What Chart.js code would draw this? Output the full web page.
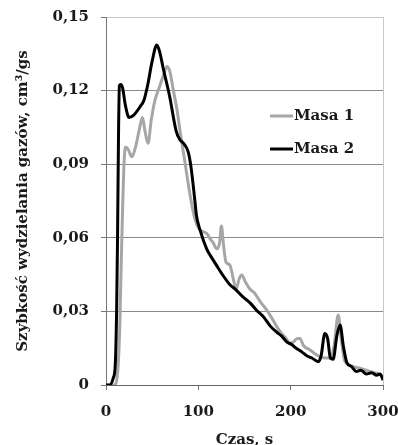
<!DOCTYPE html>
<html>
<head>
<meta charset="utf-8">
<script src="https://cdn.jsdelivr.net/npm/chart.js@4"></script>
<style>
  html, body { margin: 0; padding: 0; background: #fff; }
  .chart-wrap { width: 398px; height: 445px; position: relative; }
</style>
</head>
<body>
<div class="chart-wrap"><canvas id="chartGas"></canvas></div>
<script>
// ---- Data ----
const timeM1 = [0, 10, 12, 13.5, 15, 16.5, 18, 19.5, 21, 24, 28, 32, 36, 39.5, 42, 45.5, 49, 53, 58, 62, 66, 69, 73, 77, 80, 85, 91, 96, 101, 105, 109, 113, 116, 120, 123, 125, 127, 130, 134, 138, 141, 144, 147, 151, 156, 161, 167, 174, 180, 185, 190, 195, 199, 203, 207, 210, 214, 221, 227, 232, 238, 243, 247, 251.5, 255, 258, 262, 268, 275, 282, 290, 296, 300];
const valM1 = [0, 0, 0.003, 0.01, 0.025, 0.05, 0.072, 0.09, 0.097, 0.096, 0.093, 0.097, 0.104, 0.109, 0.104, 0.0985, 0.108, 0.116, 0.1216, 0.126, 0.1298, 0.128, 0.12, 0.112, 0.104, 0.092, 0.0775, 0.068, 0.0635, 0.0625, 0.0618, 0.0595, 0.058, 0.0555, 0.058, 0.0648, 0.058, 0.05, 0.049, 0.043, 0.039, 0.043, 0.0448, 0.042, 0.039, 0.0374, 0.034, 0.0306, 0.027, 0.0238, 0.021, 0.019, 0.017, 0.0175, 0.019, 0.019, 0.016, 0.0143, 0.0125, 0.0115, 0.011, 0.011, 0.016, 0.0285, 0.018, 0.0105, 0.0085, 0.0075, 0.0068, 0.006, 0.005, 0.0045, 0.003];

const timeM2 = [0, 4, 8, 10, 11.5, 12.5, 13.5, 14.5, 16, 18, 21, 25, 30, 37, 41, 45, 50, 55, 58, 62, 69, 76, 80, 84, 89, 92, 96, 98, 102, 109, 116, 121, 127, 134, 141, 148, 156, 163, 170, 178, 185, 190, 196, 201, 206, 212, 217, 223, 230, 233, 237, 240, 243, 246, 250, 253.5, 257, 261, 266, 271, 276, 282, 288, 293, 297, 300];
const valM2 = [0, 0, 0.003, 0.008, 0.03, 0.06, 0.1, 0.122, 0.1225, 0.121, 0.114, 0.109, 0.11, 0.1135, 0.116, 0.122, 0.132, 0.1386, 0.136, 0.129, 0.1175, 0.1035, 0.1, 0.0985, 0.095, 0.089, 0.076, 0.069, 0.063, 0.0555, 0.051, 0.048, 0.0445, 0.041, 0.0387, 0.036, 0.0335, 0.0305, 0.028, 0.024, 0.0215, 0.02, 0.0175, 0.0165, 0.015, 0.0135, 0.012, 0.011, 0.0095, 0.012, 0.021, 0.019, 0.011, 0.0105, 0.02, 0.0245, 0.016, 0.009, 0.0075, 0.0055, 0.006, 0.0045, 0.005, 0.004, 0.0045, 0.002];

const seriesNames = ['Masa 1', 'Masa 2'];
const xTitle = 'Czas, s';
const yTitle = 'Szybkość wydzielania gazów, cm³/gs';

const FONT = "'DejaVu Serif', serif";
const toPoints = (xs, ys) => xs.map((x, i) => ({ x, y: ys[i] }));
const fmtTick = v => Math.abs(v) < 1e-9 ? '0' : v.toFixed(2).replace('.', ',');
// keep the plot box where the layout padding puts it (labels may overflow)
const noScalePad = s => { s.paddingLeft = 0; s.paddingRight = 0; s.paddingTop = 0; s.paddingBottom = 0; };

// legend drawn by hand, Excel style (short line + label)
const legendPlugin = {
  id: 'sideLegend',
  afterDraw(chart) {
    const { ctx, chartArea } = chart;
    const rows = [
      { label: seriesNames[0], color: '#a6a6a6', y: chartArea.top + 99 },
      { label: seriesNames[1], color: '#000000', y: chartArea.top + 132 },
    ];
    const x0 = chartArea.left + 164;
    ctx.save();
    ctx.font = "bold 15px " + FONT;
    ctx.textBaseline = 'middle';
    rows.forEach(r => {
      ctx.strokeStyle = r.color;
      ctx.lineWidth = 3;
      ctx.beginPath();
      ctx.moveTo(x0, r.y);
      ctx.lineTo(x0 + 23, r.y);
      ctx.stroke();
      ctx.fillStyle = '#1a1a1a';
      ctx.fillText(r.label, x0 + 24, r.y);
    });
    ctx.restore();
  }
};

new Chart(document.getElementById('chartGas'), {
  type: 'line',
  data: {
    datasets: [
      { label: seriesNames[0], data: toPoints(timeM1, valM1), borderColor: '#a6a6a6', borderWidth: 3, pointRadius: 0, cubicInterpolationMode: 'monotone', fill: false, order: 1 },
      { label: seriesNames[1], data: toPoints(timeM2, valM2), borderColor: '#000000', borderWidth: 3, pointRadius: 0, cubicInterpolationMode: 'monotone', fill: false, order: 0 },
    ]
  },
  options: {
    responsive: true,
    maintainAspectRatio: false,
    animation: false,
    layout: { padding: { top: 17, right: 15, left: 0, bottom: 0 } },
    plugins: { legend: { display: false }, tooltip: { enabled: false } },
    scales: {
      x: {
        type: 'linear', min: 0, max: 300,
        ticks: { stepSize: 100, color: '#1a1a1a', font: { family: FONT, size: 15, weight: 'bold' }, padding: 13, maxRotation: 0 },
        grid: { color: c => c.tick && c.tick.value === 300 ? '#c8c8c8' : 'transparent', tickColor: '#777', tickLength: 5 },
        border: { color: '#666', width: 1 },
        title: { display: true, text: xTitle, color: '#1a1a1a', font: { family: FONT, size: 15, weight: 'bold' }, padding: { top: 0, bottom: -4 } },
        afterFit: s => { s.height = 60; noScalePad(s); }
      },
      y: {
        min: 0, max: 0.15,
        ticks: { stepSize: 0.03, color: '#1a1a1a', font: { family: FONT, size: 15, weight: 'bold' }, padding: 12, callback: fmtTick },
        grid: { color: c => !c.tick ? 'transparent' : (c.tick.value > 0.149 ? '#c8c8c8' : (c.tick.value < 1e-9 ? 'transparent' : '#8a8a8a')), tickColor: '#777', tickLength: 5 },
        border: { color: '#777', width: 1 },
        title: { display: true, text: yTitle, color: '#1a1a1a', font: { family: FONT, size: 15, weight: 'bold' }, padding: { top: 14, bottom: 0 } },
        afterFit: s => { s.width = 106; noScalePad(s); }
      }
    }
  },
  plugins: [legendPlugin]
});
</script>
</body>
</html>
